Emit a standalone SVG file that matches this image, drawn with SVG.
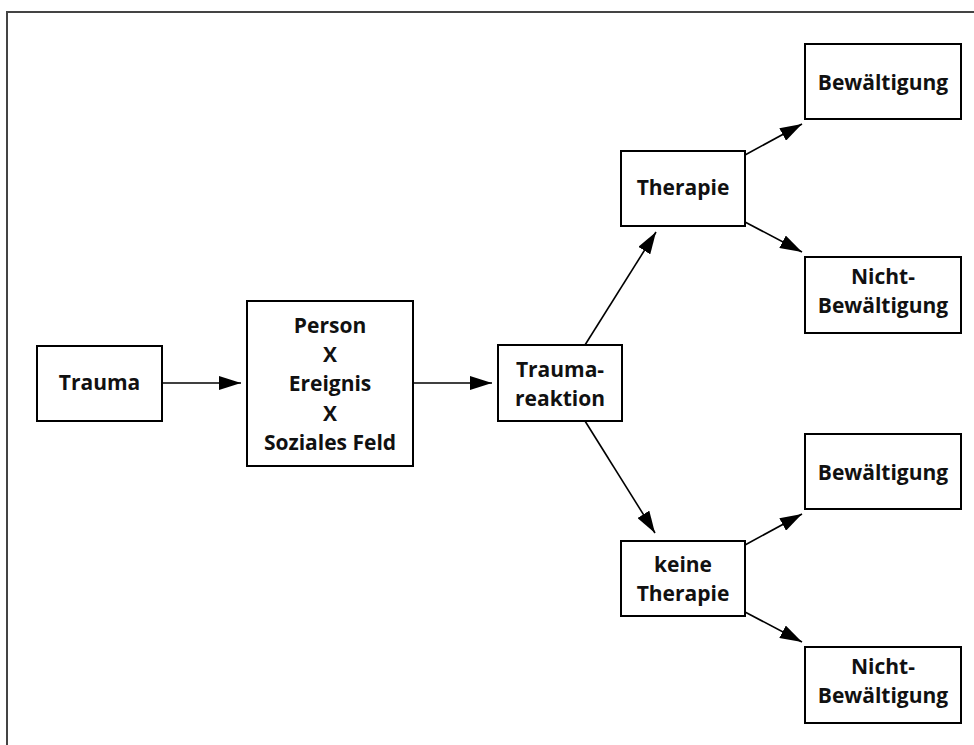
<svg xmlns="http://www.w3.org/2000/svg" width="974" height="745" viewBox="0 0 974 745">
<style>
.box{fill:#fff;stroke:#000;stroke-width:2}
.t{font-family:"Open Sans","Noto Sans","Liberation Sans",sans-serif;font-weight:bold;font-size:21px;fill:#111;text-anchor:middle}
.c{stroke:#000;stroke-width:1.6;fill:none;marker-end:url(#ah)}
</style>
<defs>
<marker id="ah" viewBox="0 0 22 14" refX="22" refY="7" markerWidth="22" markerHeight="14" markerUnits="userSpaceOnUse" orient="auto">
<path d="M0,0 L22,7 L0,14 z" fill="#000"/>
</marker>
</defs>
<rect width="974" height="745" fill="#fff"/>
<path d="M974,12 H7 V745" fill="none" stroke="#444" stroke-width="2"/>
<g id="connectors">
<line class="c" x1="162" y1="383" x2="241" y2="383"/>
<line class="c" x1="413" y1="383" x2="492" y2="383"/>
<line class="c" x1="585" y1="345" x2="656" y2="232"/>
<line class="c" x1="585" y1="421" x2="655" y2="533"/>
<line class="c" x1="745" y1="155" x2="802" y2="124"/>
<line class="c" x1="745" y1="222" x2="802" y2="252"/>
<line class="c" x1="745" y1="545" x2="802" y2="514"/>
<line class="c" x1="745" y1="612" x2="802" y2="642"/>
</g>
<g id="trauma"><rect class="box" x="37" y="346" width="125" height="75"/><text class="t" x="99.5" y="389.5">Trauma</text></g>
<g id="person"><rect class="box" x="247" y="301" width="166" height="165"/>
<text class="t" x="330" y="333">Person</text>
<text class="t" x="330" y="362">X</text>
<text class="t" x="330" y="391">Ereignis</text>
<text class="t" x="330" y="421">X</text>
<text class="t" x="330" y="450">Soziales Feld</text></g>
<g id="traumareaktion"><rect class="box" x="498" y="345" width="124" height="76"/>
<text class="t" x="560" y="377">Trauma-</text><text class="t" x="560" y="406">reaktion</text></g>
<g id="therapie"><rect class="box" x="621" y="151" width="124" height="75"/><text class="t" x="683" y="195">Therapie</text></g>
<g id="keine-therapie"><rect class="box" x="621" y="541" width="124" height="75"/>
<text class="t" x="683" y="572">keine</text><text class="t" x="683" y="601">Therapie</text></g>
<g id="bew1"><rect class="box" x="805" y="44" width="156" height="75"/><text class="t" x="883" y="90">Bewältigung</text></g>
<g id="nicht1"><rect class="box" x="805" y="257" width="156" height="76"/>
<text class="t" x="883" y="284">Nicht-</text><text class="t" x="883" y="313">Bewältigung</text></g>
<g id="bew2"><rect class="box" x="805" y="434" width="156" height="75"/><text class="t" x="883" y="480">Bewältigung</text></g>
<g id="nicht2"><rect class="box" x="805" y="647" width="156" height="76"/>
<text class="t" x="883" y="674">Nicht-</text><text class="t" x="883" y="703">Bewältigung</text></g>
</svg>
